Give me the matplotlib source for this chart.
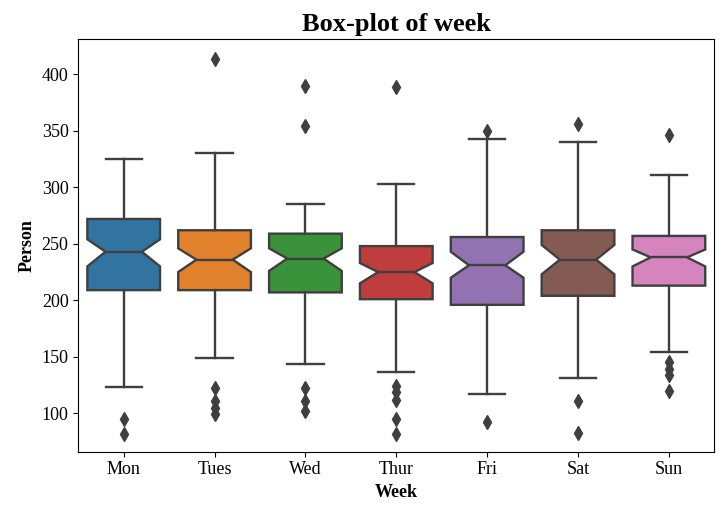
import matplotlib.pyplot as plt

# podaci procitani sa slike
dani = ["Mon", "Tues", "Wed", "Thur", "Fri", "Sat", "Sun"]
medijan = [243, 236, 237, 225, 231, 236, 238]
q1 = [209, 209, 207, 201, 196, 204, 213]
q3 = [272, 262, 259, 248, 256, 262, 257]
notch_dolje = [230, 225, 226, 215, 220, 223, 230]
notch_gore = [254, 246, 246, 233, 243, 249, 245]
brk_dolje = [123, 149, 144, 137, 117, 131, 154]
brk_gore = [325, 330, 285, 303, 343, 340, 311]
outlieri = [
    [95, 82],
    [414, 122, 111, 105, 99],
    [390, 354, 122, 111, 102],
    [389, 124, 119, 112, 95, 82],
    [350, 92],
    [356, 111, 83],
    [346, 145, 139, 134, 120],
]
boje = ["#3274a1", "#e1812c", "#3a923a", "#c03d3e", "#9372b2", "#845b53", "#d684bd"]

plt.rcParams["font.family"] = ["Liberation Serif", "DejaVu Serif"]

stats = []
for i in range(len(dani)):
    stats.append({
        "label": dani[i], "med": medijan[i], "q1": q1[i], "q3": q3[i],
        "cilo": notch_dolje[i], "cihi": notch_gore[i],
        "whislo": brk_dolje[i], "whishi": brk_gore[i], "fliers": outlieri[i],
    })

fig = plt.figure(figsize=(7.2, 5.09), dpi=100)
ax = fig.add_axes([0.1087, 0.1125, 0.8834, 0.8103])

siva = "#3f3f3f"
bp = ax.bxp(stats, positions=range(len(dani)), widths=0.8, shownotches=True,
            patch_artist=True,
            boxprops=dict(edgecolor=siva, linewidth=1.7),
            medianprops=dict(color=siva, linewidth=1.7),
            whiskerprops=dict(color=siva, linewidth=1.7),
            capprops=dict(color=siva, linewidth=1.7),
            flierprops=dict(marker="d", markerfacecolor=siva, markeredgecolor=siva,
                            markersize=7, linestyle="none"))
for patch, c in zip(bp["boxes"], boje):
    patch.set_facecolor(c)

ax.set_xlim(-0.5, 6.5)
ax.set_ylim(66, 431)
ax.set_xticks(range(len(dani)))
ax.set_xticklabels(dani)
ax.tick_params(labelsize=13)
ax.set_xlabel("Week", fontsize=13, fontweight="bold")
ax.set_ylabel("Person", fontsize=13, fontweight="bold")
ax.set_title("Box-plot of week", fontsize=19, fontweight="bold", pad=6)

fig.savefig("out.png", dpi=100)
